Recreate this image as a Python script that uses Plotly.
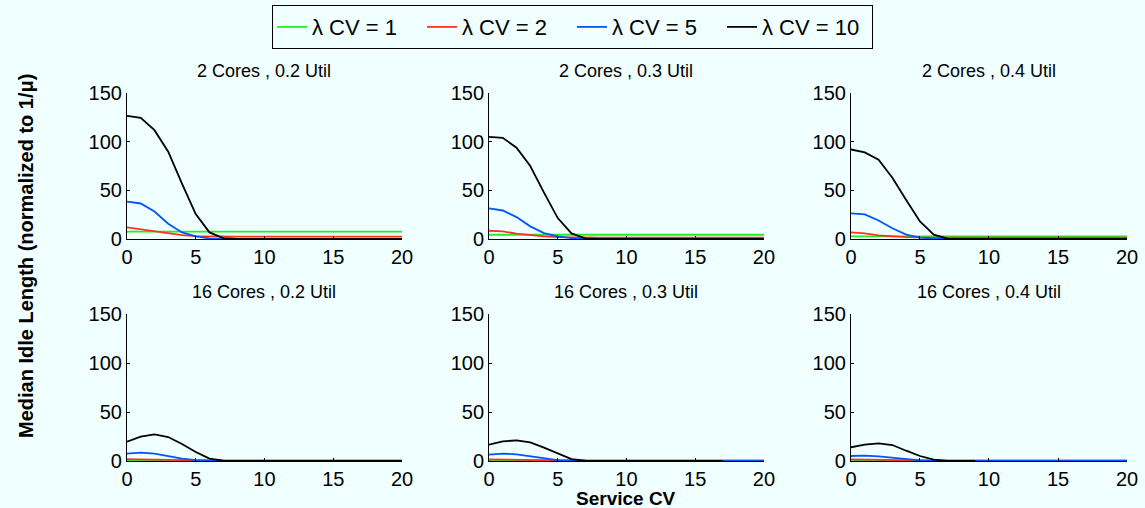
import plotly.graph_objects as go

# Service CV values (x axis of every panel)
service_cv = list(range(21))

panel_titles = [
    "2 Cores , 0.2 Util", "2 Cores , 0.3 Util", "2 Cores , 0.4 Util",
    "16 Cores , 0.2 Util", "16 Cores , 0.3 Util", "16 Cores , 0.4 Util",
]

series_names = ["λ CV = 1", "λ CV = 2", "λ CV = 5", "λ CV = 10"]
series_colors = ["#22EE22", "#FF3322", "#0055FF", "#000000"]

# Median idle length per panel, one list per arrival CV (λ CV = 1, 2, 5, 10)
cv1 = [
    [7.5] * 21,
    [4.4] * 21,
    [2.8] * 21,
    [0.7] * 21,
    [0.5] * 21,
    [0.5] * 21,
]
cv2 = [
    [12, 10, 7.5, 5.5, 4, 3, 2.6, 2.5, 2.5, 2.5, 2.5, 2.5, 2.5, 2.5, 2.5, 2.5, 2.5, 2.5, 2.5, 2.5, 2.5],
    [8.5, 7.8, 5.5, 3.8, 2.7, 2, 1.6, 1.5, 1.5, 1.5, 1.5, 1.5, 1.5, 1.5, 1.5, 1.5, 1.5, 1.5, 1.5, 1.5, 1.5],
    [6.8, 5.8, 3.8, 2.7, 2, 1.6, 1.5, 1.5, 1.5, 1.5, 1.5, 1.5, 1.5, 1.5, 1.5, 1.5, 1.5, 1.5, 1.5, 1.5, 1.5],
    [2, 1.7, 1, 0.7, 0.5, 0.4, 0.3, 0.3, 0.3, 0.3, 0.3, 0.3, 0.3, 0.3, 0.3, 0.3, 0.3, 0.3, 0.3, 0.3, 0.3],
    [1.7, 1.4, 1, 0.7, 0.5, 0.4, 0.3, 0.3, 0.3, 0.3, 0.3, 0.3, 0.3, 0.3, 0.3, 0.3, 0.3, 0.3, 0.3, 0.3, 0.3],
    [1.7, 1.4, 1, 0.7, 0.5, 0.4, 0.3, 0.3, 0.3, 0.3, 0.3, 0.3, 0.3, 0.3, 0.3, 0.3, 0.3, 0.3, 0.3, 0.3, 0.3],
]
cv5 = [
    [38.5, 36.5, 28.3, 15.7, 6.8, 2.7, 0.7, 0, 0, 0, 0, 0, 0, 0, 0, 0, 0, 0, 0, 0, 0],
    [31.4, 29.3, 22.5, 13, 6.1, 2.7, 1, 0, 0, 0, 0, 0, 0, 0, 0, 0, 0, 0, 0, 0, 0],
    [26.4, 25.3, 19, 11, 4.5, 1.4, 0.3, 0, 0, 0, 0, 0, 0, 0, 0, 0, 0, 0, 0, 0, 0],
    [7.5, 8.5, 7.5, 4.8, 2.4, 1, 0.3, 0, 0, 0, 0, 0, 0, 0, 0, 0, 0, 0, 0, 0, 0],
    [6.5, 7.5, 6.8, 4.8, 2.7, 1, 0.3, 0, 0, 0, 0, 0, 0, 0, 0, 0, 0, 0, 0, 0, 0],
    [5.1, 5.4, 4.8, 3.4, 1.7, 0.7, 0.2, 0, 0, 0, 0, 0, 0, 0, 0, 0, 0, 0, 0, 0, 0],
]
cv10 = [
    [126.5, 124.4, 111.8, 89.7, 57, 25.6, 6.8, 1, 0, 0, 0, 0, 0, 0, 0, 0, 0, 0, 0, 0, 0],
    [105, 104, 93.8, 75, 47.7, 21.5, 5.8, 0.7, 0, 0, 0, 0, 0, 0, 0, 0, 0, 0, 0, 0, 0],
    [92, 89, 81.5, 63, 40, 18, 4.5, 0.3, 0, 0, 0, 0, 0, 0, 0, 0, 0, 0, 0, 0, 0],
    [19.7, 24.8, 27.2, 24.5, 17.3, 9.2, 2.4, 0.3, 0, 0, 0, 0, 0, 0, 0, 0, 0, 0, 0, 0, 0],
    [16.7, 20, 21.1, 19, 13.6, 7.5, 2, 0.3, 0, 0, 0, 0, 0, 0, 0, 0, 0, 0, None, None, None],
    [14, 16.7, 18, 16.3, 10.5, 5.1, 1.4, 0, 0, 0, None, None, None, None, None, None, None, None, None, None, None],
]

y_ticks = [0, 50, 100, 150]
x_ticks = [0, 5, 10, 15, 20]

bg = "#F0FFFF"
font_family = "Liberation Sans, Arial, Helvetica, sans-serif"

# Panel placement (paper coordinates)
col_domains = [[0.1109, 0.3511], [0.4271, 0.6672], [0.7432, 0.9843]]
row_domains = [[0.5295, 0.8169], [0.0925, 0.3819]]
title_offset = 22 / 508

fig = go.Figure()
all_series = [cv1, cv2, cv5, cv10]

layout_axes = {}
annotations = []
for p in range(6):
    r, c = divmod(p, 3)
    idx = "" if p == 0 else str(p + 1)
    xa, ya = "x" + idx, "y" + idx
    for s, (name, color) in enumerate(zip(series_names, series_colors)):
        fig.add_trace(go.Scatter(
            x=service_cv, y=all_series[s][p], mode="lines",
            line=dict(color=color, width=1.8),
            name=name, legendgroup=name, showlegend=(p == 0),
            xaxis=xa, yaxis=ya, connectgaps=False,
        ))
    axis_common = dict(
        showgrid=False, zeroline=False, showline=True, linecolor="black",
        linewidth=1, ticks="inside", ticklen=3, tickcolor="black",
        tickfont=dict(size=20, color="black", family=font_family),
        automargin=False,
    )
    layout_axes["xaxis" + idx] = dict(
        axis_common, domain=col_domains[c], range=[0, 20],
        tickvals=x_ticks, anchor=ya,
    )
    layout_axes["yaxis" + idx] = dict(
        axis_common, domain=row_domains[r], range=[0, 150],
        tickvals=y_ticks, anchor=xa,
    )
    annotations.append(dict(
        text=panel_titles[p], xref="paper", yref="paper",
        x=sum(col_domains[c]) / 2, y=row_domains[r][1] + title_offset,
        xanchor="center", yanchor="middle", showarrow=False,
        font=dict(size=18, color="black", family=font_family),
    ))

annotations.append(dict(
    text="<b>Service CV</b>", xref="paper", yref="paper",
    x=sum(col_domains[1]) / 2, y=0.018, xanchor="center", yanchor="middle",
    showarrow=False, font=dict(size=19, color="black", family=font_family),
))
annotations.append(dict(
    text="<b>Median Idle Length (normalized to 1/μ)</b>", xref="paper", yref="paper",
    x=0.0227, y=0.496, xanchor="center", yanchor="middle", textangle=-90,
    showarrow=False, font=dict(size=20, color="black", family=font_family),
))

fig.update_layout(
    width=1145, height=508, autosize=False,
    margin=dict(l=0, r=0, t=0, b=0, pad=0, autoexpand=False),
    paper_bgcolor=bg, plot_bgcolor=bg,
    showlegend=True,
    legend=dict(
        orientation="h", x=0.5, xanchor="center", y=0.99, yanchor="top",
        bgcolor=bg, bordercolor="black", borderwidth=1,
        font=dict(size=22, color="black", family=font_family),
        itemwidth=30, tracegroupgap=0,
        entrywidth=105, entrywidthmode="pixels",
    ),
    annotations=annotations,
    **layout_axes,
)

fig.write_html("out.html")
